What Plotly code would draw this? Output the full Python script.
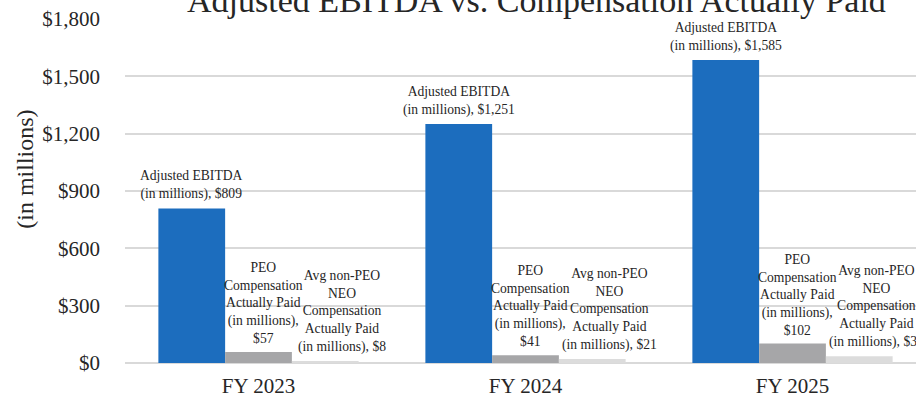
import plotly.graph_objects as go

years = ["FY 2023", "FY 2024", "FY 2025"]
ebitda = [809, 1251, 1585]
peo_cap = [57, 41, 102]
neo_cap = [8, 21, 35]
tick_vals = [0, 300, 600, 900, 1200, 1500, 1800]
tick_text = ["$0", "$300", "$600", "$900", "$1,200", "$1,500", "$1,800"]

series = [
    dict(name="Adjusted EBITDA", values=ebitda, color="#1C6DBE",
         fmt="Adjusted EBITDA<br>(in millions), ${:,}", offset=-0.25, xshift=0),
    dict(name="PEO CAP", values=peo_cap, color="#A6A6A8",
         fmt="PEO<br>Compensation<br>Actually Paid<br>(in millions),<br>${:,}", offset=0.0, xshift=5),
    dict(name="Avg non-PEO NEO CAP", values=neo_cap, color="#DCDCDC",
         fmt="Avg non-PEO<br>NEO<br>Compensation<br>Actually Paid<br>(in millions), ${:,}", offset=0.25, xshift=17),
]

FONT = "Liberation Serif"
TXT = "#262626"
xs = list(range(len(years)))

fig = go.Figure()
annotations = []
for s in series:
    fig.add_trace(go.Bar(x=xs, y=s["values"], name=s["name"], marker_color=s["color"],
                         marker_line_width=0))
    for i, v in enumerate(s["values"]):
        annotations.append(dict(
            x=i + s["offset"], y=v, xref="x", yref="y", text=s["fmt"].format(v),
            showarrow=False, yanchor="bottom", xanchor="center", yshift=4,
            xshift=s["xshift"], align="center",
            font=dict(family=FONT, size=13.6, color=TXT)))

annotations.append(dict(
    x=0.52, y=1, xref="paper", yref="paper", text="Adjusted EBITDA vs. Compensation Actually Paid",
    showarrow=False, yanchor="bottom", xanchor="center", yshift=-2,
    font=dict(family=FONT, size=34, color=TXT)))
annotations.append(dict(
    x=0, y=0.5617, xref="paper", yref="paper", text="(in millions)", textangle=-90,
    showarrow=False, xanchor="center", yanchor="middle", xshift=-100,
    font=dict(family=FONT, size=24, color=TXT)))

fig.update_layout(
    width=916, height=397,
    margin=dict(l=125, r=0, t=19, b=34, pad=0),
    paper_bgcolor="white", plot_bgcolor="white",
    barmode="group", bargap=0.25, bargroupgap=0,
    showlegend=False,
    annotations=annotations,
    xaxis=dict(range=[-0.5, 2.4625], tickvals=xs, ticktext=years, showgrid=False,
               zeroline=False, showline=False, ticks="", ticklabelstandoff=8,
               tickfont=dict(family=FONT, size=21, color=TXT)),
    yaxis=dict(range=[0, 1800], tickvals=tick_vals, ticktext=tick_text,
               showgrid=True, gridcolor="#D9D9D9", gridwidth=1.5,
               zeroline=True, zerolinecolor="#D9D9D9", zerolinewidth=1.5,
               showline=False, ticks="", ticklabelstandoff=24,
               tickfont=dict(family=FONT, size=21, color=TXT)),
)

fig.write_html("out.html")
